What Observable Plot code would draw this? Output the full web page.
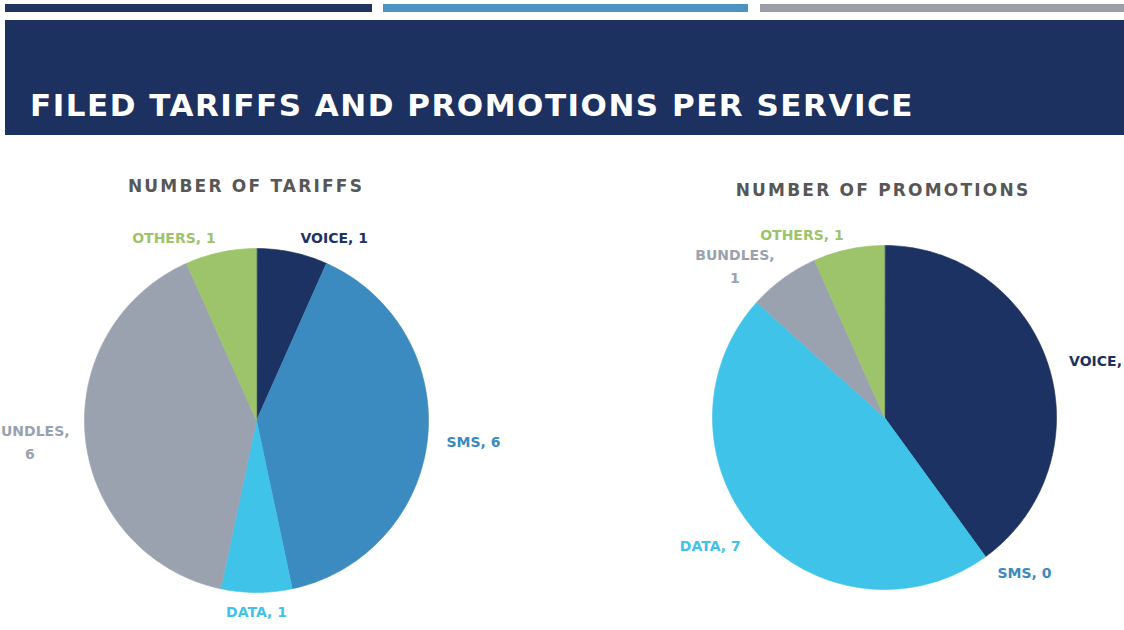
<!DOCTYPE html>
<html>
<head>
<meta charset="utf-8">
<script src="https://cdn.jsdelivr.net/npm/d3@7"></script>
<script src="https://cdn.jsdelivr.net/npm/@observablehq/plot@0.6"></script>
<style>
  body { margin:0; width:1124px; height:630px; position:relative; overflow:hidden; background:#fff; font-family:"DejaVu Sans", sans-serif; }
  .bar { position:absolute; top:4px; height:8px; }
  #header { position:absolute; left:5px; top:20px; width:1119px; height:115px; background:#1c3160; }
  #title { position:absolute; left:30px; top:87px; color:#fff; font-weight:bold; font-size:31px; letter-spacing:1.5px; white-space:nowrap; }
  .sub { position:absolute; color:#575757; font-weight:bold; font-size:17px; letter-spacing:2.2px; white-space:nowrap; transform:translateX(-50%); }
  .pie { position:absolute; top:140px; width:562px; height:490px; }
</style>
</head>
<body>
<div class="bar" style="left:5px;width:367px;background:#1f3560"></div>
<div class="bar" style="left:383px;width:365px;background:#4a93c3"></div>
<div class="bar" style="left:760px;width:364px;background:#9b9ea6"></div>
<div id="header"></div>
<div id="title">FILED TARIFFS AND PROMOTIONS PER SERVICE</div>
<div class="sub" id="sub1" style="left:246px;top:176px">NUMBER OF TARIFFS</div>
<div class="sub" id="sub2" style="left:883px;top:180px">NUMBER OF PROMOTIONS</div>
<div class="pie" id="pie1" style="left:0px"></div>
<div class="pie" id="pie2" style="left:562px"></div>
<script>
const categories = ["VOICE", "SMS", "DATA", "BUNDLES", "OTHERS"];
const tariffs = [1, 6, 1, 6, 1];
const promotions = [6, 0, 7, 1, 1];
const colors = ["#1b3262", "#3b8ac0", "#3fc3e9", "#9aa2b0", "#9dc36b"];

const R = 172; // pie radius in px

function pieChart(values, cxPx, cyPx, w, h) {
  const total = d3.sum(values);
  let acc = 0;
  const slices = categories.map((c, i) => {
    const a0 = acc / total * 2 * Math.PI;
    acc += values[i];
    const a1 = acc / total * 2 * Math.PI;
    return {cat: c, value: values[i], a0, a1};
  });
  const pts = [];
  for (const s of slices) {
    if (s.value <= 0) continue;
    pts.push({cat: s.cat, x: 0, y: 0});
    const n = Math.max(2, Math.ceil((s.a1 - s.a0) / (Math.PI / 180)));
    for (let k = 0; k <= n; k++) {
      const a = s.a0 + (s.a1 - s.a0) * k / n;
      pts.push({cat: s.cat, x: Math.sin(a), y: Math.cos(a)});
    }
  }
  const charW = 9.6;
  const labels = slices.map(s => {
    const text = s.cat.length > 6 ? `${s.cat},\n${s.value}` : `${s.cat}, ${s.value}`;
    const a = (s.a0 + s.a1) / 2;
    const lr = 1.1;
    const lines = text.split("\n");
    const maxLen = d3.max(lines, l => l.length);
    const sn = Math.sin(a);
    const shift = Math.abs(sn) > 0.05 ? Math.sign(sn) * maxLen * charW / 2 / R : 0;
    return {cat: s.cat, text, x: lr * sn + shift, y: lr * Math.cos(a)};
  });
  return Plot.plot({
    width: w, height: h, margin: 0,
    style: {background: "transparent", overflow: "visible"},
    x: {domain: [-cxPx / R, (w - cxPx) / R], axis: null},
    y: {domain: [-(h - cyPx) / R, cyPx / R], axis: null},
    color: {domain: categories, range: colors},
    marks: [
      Plot.line(pts, {x: "x", y: "y", z: "cat", fill: "cat", stroke: "cat", strokeWidth: 0.6, curve: "linear-closed"}),
      Plot.text(labels, {x: "x", y: "y", text: "text", fill: "cat", fontSize: 14, fontWeight: "bold",
        fontFamily: "DejaVu Sans, sans-serif", textAnchor: "middle", lineHeight: 1.6, letterSpacing: 1})
    ]
  });
}

document.getElementById("pie1").append(pieChart(tariffs, 256, 280, 562, 490));
document.getElementById("pie2").append(pieChart(promotions, 322, 277, 562, 490));
</script>
</body>
</html>
